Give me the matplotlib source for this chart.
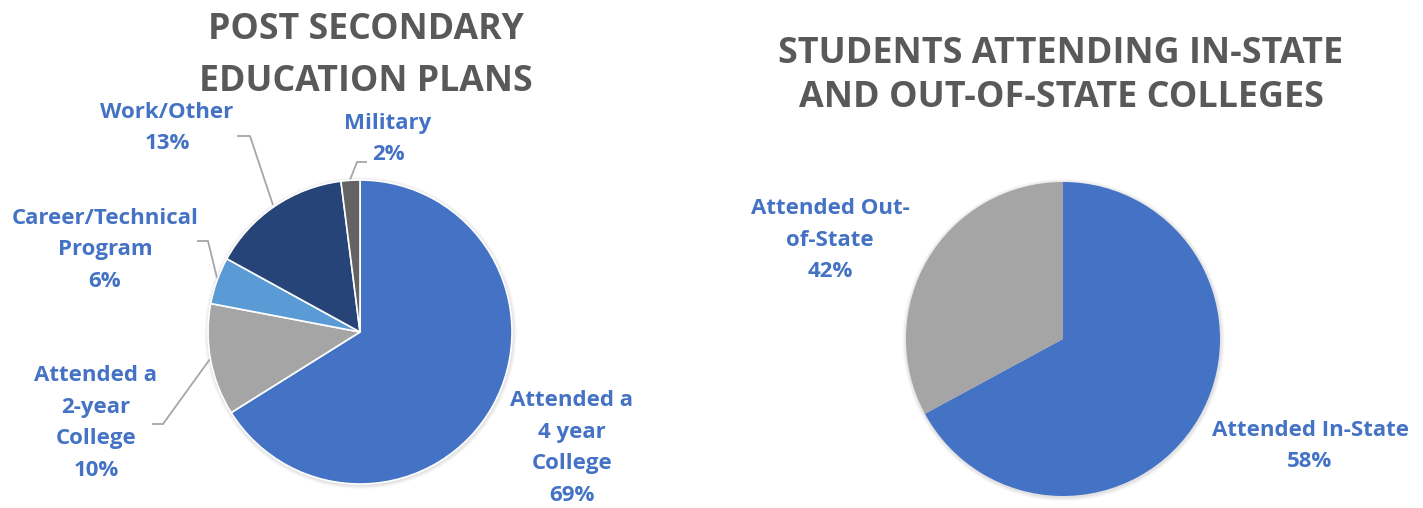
import matplotlib
matplotlib.use("Agg")
import matplotlib.pyplot as plt
from matplotlib.patches import Circle

# left pie: post secondary plans (wedge sizes as drawn, label text as printed)
plan_names = ["Attended a\n4 year\nCollege", "Attended a\n2-year\nCollege",
              "Career/Technical\nProgram", "Work/Other", "Military"]
plan_sizes = [66.1, 11.9, 5.0, 15.0, 2.0]
plan_pcts = [69, 10, 6, 13, 2]
plan_colors = ["#4472C4", "#A5A5A5", "#5B9BD5", "#264478", "#636363"]

# right pie: in-state vs out-of-state
state_names = ["Attended In-State", "Attended Out-\nof-State"]
state_sizes = [67.1, 32.9]
state_pcts = [58, 42]
state_colors = ["#4472C4", "#A5A5A5"]

W, H = 1423, 508
LBL = "#4472C4"
TTL = "#595959"
LEAD = "#A6A6A6"
plt.rcParams['font.family'] = ['Open Sans', 'DejaVu Sans']

fig = plt.figure(figsize=(W / 100, H / 100), dpi=100)
ax = fig.add_axes([0, 0, 1, 1])


def y(py):
    # pixel row -> data y
    return H - py


# soft shadow behind each pie
for cx, cy, r in [(360, 332, 152), (1063, 339, 157)]:
    for k in range(1, 6):
        ax.add_patch(Circle((cx + 0.5, y(cy + 1)), r + k * 0.8, color="black",
                            alpha=0.025, lw=0, zorder=0))

ax.pie(plan_sizes, colors=plan_colors, startangle=90, counterclock=False,
       center=(360, y(332)), radius=152,
       wedgeprops=dict(edgecolor="white", linewidth=1.2, zorder=2))
ax.pie(state_sizes, colors=state_colors, startangle=90, counterclock=False,
       center=(1063, y(339)), radius=157,
       wedgeprops=dict(edgecolor="none", zorder=2))

ax.set_xlim(0, W)
ax.set_ylim(0, H)
ax.set_aspect("equal")
ax.set_axis_off()

# titles
ax.text(366, y(56), "POST SECONDARY\nEDUCATION PLANS", ha="center", va="center",
        fontsize=25.7, fontweight="bold", color=TTL, linespacing=1.56)
ax.text(1061, y(76), "STUDENTS ATTENDING IN-STATE\nAND OUT-OF-STATE COLLEGES",
        ha="center", va="center", fontsize=25.8, fontweight="bold", color=TTL,
        linespacing=1.26)

# data labels (pixel centres)
plan_pos = [(572, 448), (96, 423), (105, 250), (167, 128), (388, 139)]
for (px, py), name, pct in zip(plan_pos, plan_names, plan_pcts):
    ax.text(px, y(py), f"{name}\n{pct}%", ha="center", va="center",
            fontsize=16, fontweight="bold", color=LBL, linespacing=1.65)

state_pos = [(1310, 446), (830, 240)]
for (px, py), name, pct in zip(state_pos, state_names, state_pcts):
    ax.text(px, y(py), f"{name}\n{pct}%", ha="center", va="center",
            fontsize=16, fontweight="bold", color=LBL, linespacing=1.65)

# leader lines
leaders = [
    [(237, 136), (250, 136), (273, 205)],   # Work/Other
    [(367, 162), (357, 162), (350, 180)],   # Military
    [(197, 241), (208, 241), (217, 278)],   # Career/Technical
    [(152, 424), (163, 424), (210, 359)],   # 2-year
]
for pts in leaders:
    ax.plot([p[0] for p in pts], [y(p[1]) for p in pts], color=LEAD, lw=1.3,
            solid_capstyle="butt", zorder=1)

fig.savefig("out.png", dpi=100, facecolor="white")
